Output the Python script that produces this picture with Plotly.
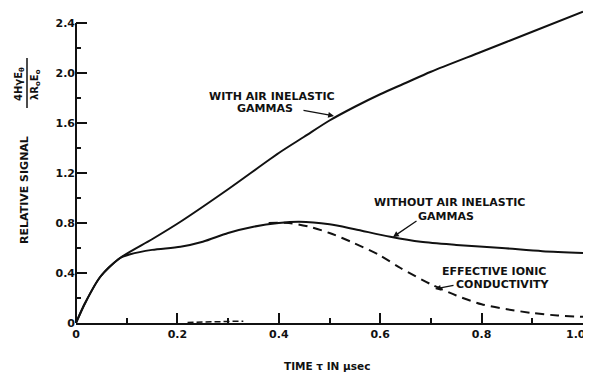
import plotly.graph_objects as go

# ---- data ----
x_with = [0, 0.018, 0.048, 0.087, 0.15, 0.206, 0.3, 0.4, 0.45, 0.5, 0.55, 0.6, 0.65, 0.7, 0.8, 0.9, 1.0]
y_with = [0, 0.16, 0.37, 0.52, 0.67, 0.81, 1.07, 1.36, 1.49, 1.62, 1.73, 1.83, 1.92, 2.01, 2.17, 2.33, 2.49]

x_without = [0, 0.018, 0.048, 0.087, 0.107, 0.15, 0.206, 0.25, 0.3, 0.35, 0.4, 0.44, 0.5, 0.55, 0.62, 0.68, 0.75, 0.84, 0.92, 1.0]
y_without = [0, 0.16, 0.37, 0.52, 0.55, 0.585, 0.61, 0.65, 0.72, 0.77, 0.80, 0.81, 0.79, 0.75, 0.69, 0.65, 0.625, 0.60, 0.575, 0.56]

x_ionic = [0.38, 0.42, 0.46, 0.5, 0.548, 0.6, 0.64, 0.7, 0.75, 0.8, 0.85, 0.9, 0.95, 1.0]
y_ionic = [0.80, 0.80, 0.77, 0.72, 0.64, 0.54, 0.44, 0.31, 0.22, 0.15, 0.11, 0.08, 0.06, 0.05]

x_ionic_start = [0.22, 0.27, 0.33]
y_ionic_start = [0.005, 0.01, 0.015]

x_tickvals = [0, 0.2, 0.4, 0.6, 0.8, 1.0]
x_ticktext = ["0", "0.2", "0.4", "0.6", "0.8", ""]   # "1.0" drawn as an annotation so it is not clipped
x_last_label = "1.0"
y_tickvals = [0, 0.4, 0.8, 1.2, 1.6, 2.0, 2.4]
y_ticktext = ["0", "0.4", "0.8", "1.2", "1.6", "2.0", "2.4"]
Y_AXIS_TOP = 2.4

INK = "#111111"
FONT = "DejaVu Sans"

fig = go.Figure()
line_solid = dict(color=INK, width=2, shape="spline", smoothing=0.8)
fig.add_trace(go.Scatter(x=x_with, y=y_with, mode="lines", line=line_solid, showlegend=False))
fig.add_trace(go.Scatter(x=x_without, y=y_without, mode="lines", line=line_solid, showlegend=False))
fig.add_trace(go.Scatter(x=x_ionic, y=y_ionic, mode="lines",
                         line=dict(color=INK, width=2, dash="9px,6px", shape="spline", smoothing=0.8),
                         showlegend=False))
fig.add_trace(go.Scatter(x=x_ionic_start, y=y_ionic_start, mode="lines",
                         line=dict(color=INK, width=1.5, dash="6px,3px"), showlegend=False))

lab_font = dict(family=FONT, size=11, color=INK, weight="bold")

PLOT_TOP_PY = 8       # page pixel of the top of the plot area
PLOT_BOTTOM_PY = 323  # page pixel of y = 0


def px2x(px):
    # page pixel -> paper x (plot area spans page px 76..583)
    return (px - 76) / 507


def py2y(py):
    return (PLOT_BOTTOM_PY - py) / (PLOT_BOTTOM_PY - PLOT_TOP_PY)


def label(text, px, py, **kw):
    fig.add_annotation(x=px2x(px), y=py2y(py), xref="paper", yref="paper", text=text,
                       showarrow=False, font=kw.pop("font", lab_font),
                       xanchor=kw.pop("xanchor", "center"), yanchor="middle", **kw)


def arrow(px0, py0, px1, py1):
    fig.add_annotation(x=px2x(px1), y=py2y(py1), ax=px0 - px1, ay=py0 - py1,
                       xref="paper", yref="paper", axref="pixel", ayref="pixel",
                       text="", showarrow=True, arrowhead=2, arrowsize=0.9,
                       arrowwidth=1.3, arrowcolor=INK)


label("WITH AIR INELASTIC", 272, 96)
label("GAMMAS", 265, 109)
arrow(302, 110, 334, 116)

label("WITHOUT AIR INELASTIC", 449, 202)
label("GAMMAS", 446, 216)
arrow(418, 220, 393, 237)

label("EFFECTIVE IONIC", 494, 271)
label("CONDUCTIVITY", 502, 284)
arrow(455, 285, 435, 289)

tick_font = dict(family=FONT, size=11, color=INK, weight="bold")
# last x tick label, right-aligned near the window edge
label(x_last_label, 588, 334, font=tick_font, xanchor="right")

# axis titles (outside the plot area)
label("RELATIVE SIGNAL", 25, 190, textangle=-90,
      font=dict(family=FONT, size=11, color=INK, weight="bold"))
label("4HγE<sub>θ</sub>", 19, 84, textangle=-90,
      font=dict(family=FONT, size=10, color=INK, weight="bold"))
label("λR<sub>o</sub>E<sub>o</sub>", 35, 85, textangle=-90,
      font=dict(family=FONT, size=10, color=INK, weight="bold"))
fig.add_shape(type="line", xref="paper", yref="paper", x0=px2x(27), x1=px2x(27),
              y0=py2y(58), y1=py2y(108), line=dict(color=INK, width=1.5))
label("TIME τ IN μsec", 327, 366, font=dict(family=FONT, size=10.5, color=INK, weight="bold"))

# y axis line stops at 2.4 while the upper curve rises a little above it
fig.add_shape(type="line", xref="paper", yref="y", x0=0, x1=0, y0=0, y1=Y_AXIS_TOP,
              line=dict(color=INK, width=2))

fig.update_xaxes(range=[0, 1.0], showline=True, linewidth=2, linecolor=INK, mirror=False,
                 automargin=False, ticklabeloverflow="allow",
                 showgrid=False, zeroline=False, tickvals=x_tickvals, ticktext=x_ticktext,
                 ticks="inside", ticklen=10, tickwidth=1.5, tickcolor=INK, tickfont=tick_font,
                 minor=dict(dtick=0.1, tick0=0, ticks="inside", ticklen=5, tickwidth=1.5, tickcolor=INK))
fig.update_yaxes(range=[0, 2.52], showline=False,
                 automargin=False, ticklabeloverflow="allow",
                 showgrid=False, zeroline=False, tickvals=y_tickvals, ticktext=y_ticktext,
                 ticks="inside", ticklen=11, tickwidth=1.5, tickcolor=INK, tickfont=tick_font,
                 minor=dict(dtick=0.2, tick0=0, ticks="inside", ticklen=5, tickwidth=1.5, tickcolor=INK))

# the page body has an 8px margin, so the figure is 8px smaller than the window
fig.update_layout(width=583, height=369, margin=dict(l=68, r=8, t=0, b=54, autoexpand=False),
                  plot_bgcolor="white", paper_bgcolor="white", showlegend=False,
                  font=dict(family=FONT, color=INK))

fig.write_html("out.html")
